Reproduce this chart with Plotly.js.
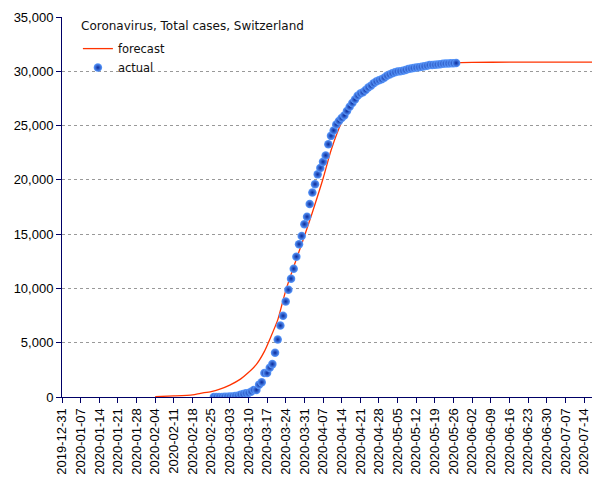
<!DOCTYPE html>
<html>
<head>
<meta charset="utf-8">
<script src="https://cdn.plot.ly/plotly-3.0.1.min.js"></script>
<style>html,body{margin:0;padding:0;background:#fff;}#chart{width:605px;height:480px;}</style>
</head>
<body>
<div id="chart"></div>
<script>
// Forecast
const forecastDates = ['2020-02-04','2020-02-11','2020-02-18','2020-02-21','2020-02-25','2020-02-28','2020-03-03','2020-03-07','2020-03-10','2020-03-13','2020-03-16','2020-03-18','2020-03-21','2020-03-24','2020-03-27','2020-03-31','2020-04-03','2020-04-07','2020-04-10','2020-04-14','2020-04-18','2020-04-23','2020-04-28','2020-05-05','2020-05-12','2020-05-19','2020-05-26','2020-06-02','2020-06-16','2020-07-17'];
const forecastValues = [30,100,200,340,500,700,1100,1650,2250,3000,4200,5300,7100,9800,12000,14800,17000,20100,22700,25300,27000,28400,29300,30000,30400,30650,30780,30820,30840,30840];

// Actual daily totals, 2020-02-26 .. 2020-05-27
const actualStart = '2020-02-26';
const actualValues = [1,1,8,8,18,27,42,56,90,114,214,268,337,374,491,652,652,1139,1359,2200,2200,2700,3028,4075,5294,6575,7474,8795,9877,10897,11811,12928,14076,14829,15922,16605,17768,18827,19606,20505,21100,21657,22253,23280,24051,24551,25107,25415,25688,25936,26336,26732,27078,27404,27740,27944,28063,28268,28496,28677,28894,29061,29164,29264,29407,29586,29705,29817,29905,29981,30009,30060,30126,30207,30251,30305,30344,30380,30413,30463,30514,30572,30587,30597,30618,30658,30694,30707,30725,30736,30746,30761];

const chartTitle = 'Coronavirus, Total cases, Switzerland';
const seriesNames = ['forecast','actual'];

function dayList(start, n){
  const out=[]; const d=new Date(start+'T00:00:00Z');
  for(let i=0;i<n;i++){ const t=new Date(d.getTime()+i*86400000); out.push(t.toISOString().slice(0,10)); }
  return out;
}
const actualDates = dayList(actualStart, actualValues.length);

const traces = [
  {x: forecastDates, y: forecastValues, name: seriesNames[0], type:'scatter', mode:'lines',
   line:{color:'#ff3300', width:1.3, shape:'spline', smoothing:0.6}},
  {x: actualDates, y: actualValues, name: seriesNames[1], type:'scatter', mode:'markers',
   marker:{size:8.5, color:'#5c9cff', gradient:{type:'radial', color:'#0a2a9a'}, line:{width:0}}}
];

const axisColor = '#000066';
const layout = {
  width:605, height:480,
  margin:{l:62, r:13, t:17, b:83, pad:0},
  paper_bgcolor:'#fff', plot_bgcolor:'#fff',
  showlegend:true,
  annotations:[{text:chartTitle, xref:'paper', yref:'paper', x:0.033, y:0.976, xanchor:'left', yanchor:'middle',
    showarrow:false, font:{family:'DejaVu Sans', size:12, color:'#111'}}],
  legend:{x:0.03, y:0.955, xanchor:'left', yanchor:'top', bgcolor:'rgba(0,0,0,0)',
    font:{family:'DejaVu Sans', size:11.5, color:'#111'}},
  xaxis:{type:'date', range:['2019-12-31','2020-07-17'], tick0:'2019-12-31', dtick:7*86400000,
    tickformat:'%Y-%m-%d', tickangle:-90, showgrid:false, zeroline:false,
    showline:true, linecolor:axisColor, linewidth:1, ticks:'outside', ticklen:5, tickcolor:axisColor,
    tickfont:{family:'Liberation Sans, Arial', size:13, color:'#000'}, automargin:false},
  yaxis:{range:[0,35000], dtick:5000, tickformat:',d', showgrid:true, gridcolor:'#999', griddash:'3px,3px', gridwidth:1,
    zeroline:false, showline:true, linecolor:axisColor, linewidth:1, ticks:'outside', ticklen:5, tickcolor:axisColor,
    tickfont:{family:'Liberation Sans, Arial', size:13, color:'#000'}, automargin:false}
};
Plotly.newPlot('chart', traces, layout, {displayModeBar:false, staticPlot:true});
</script>
</body>
</html>
